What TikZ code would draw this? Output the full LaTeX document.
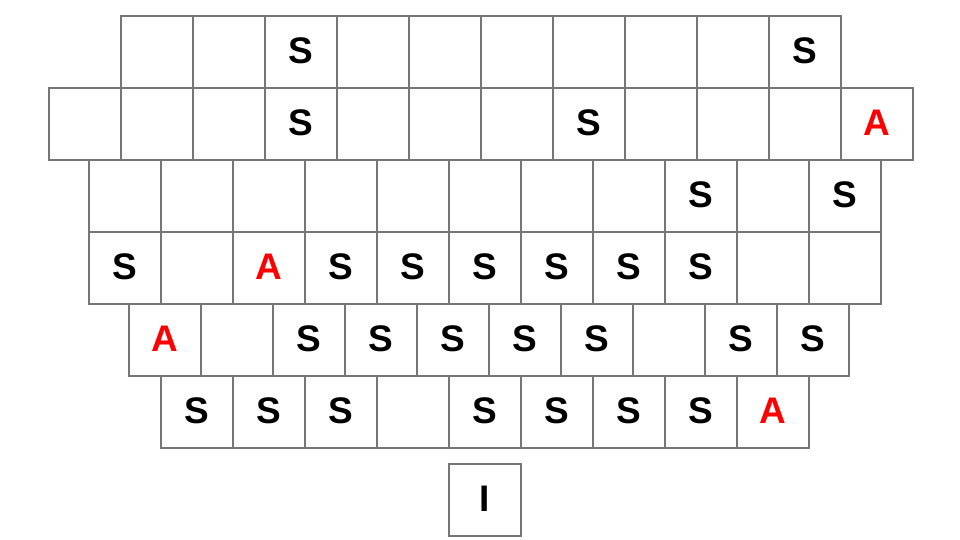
\documentclass[tikz,border=0pt]{standalone}
\usepackage{fontspec}
\setmainfont{Liberation Sans}
\definecolor{gridgray}{RGB}{117,117,117}
\definecolor{ared}{RGB}{255,0,0}
\newcommand{\lblS}{S}
\newcommand{\lblA}{\textcolor{ared}{A}}
\newcommand{\lblI}{I}
\newcommand{\lble}{}
\begin{document}
\begin{tikzpicture}[x=1pt,y=-1pt,
  cell/.style={draw=gridgray, line width=1.8pt, minimum width=72pt, minimum height=72pt,
    inner sep=0pt, anchor=north west, font=\fontsize{37}{37}\selectfont\bfseries, text=black}]
\useasboundingbox (0,0) rectangle (960,540);
\newcommand{\cellrow}[3]{%
  \foreach \t [count=\i] in {#3} {
    \node[cell] (r#2c\i) at ({#1-1+72*(\i-1)},{#2-1}) {\raisebox{2pt}{\csname lbl\t\endcsname}};
  }%
}
\cellrow{121}{16}{e,e,S,e,e,e,e,e,e,S}
\cellrow{49}{88}{e,e,e,S,e,e,e,S,e,e,e,A}
\cellrow{89}{160}{e,e,e,e,e,e,e,e,S,e,S}
\cellrow{89}{232}{S,e,A,S,S,S,S,S,S,e,e}
\cellrow{129}{304}{A,e,S,S,S,S,S,e,S,S}
\cellrow{161}{376}{S,S,S,e,S,S,S,S,A}
\node[cell] (ibox) at (448,463) {\raisebox{2pt}{I}};
\end{tikzpicture}
\end{document}
